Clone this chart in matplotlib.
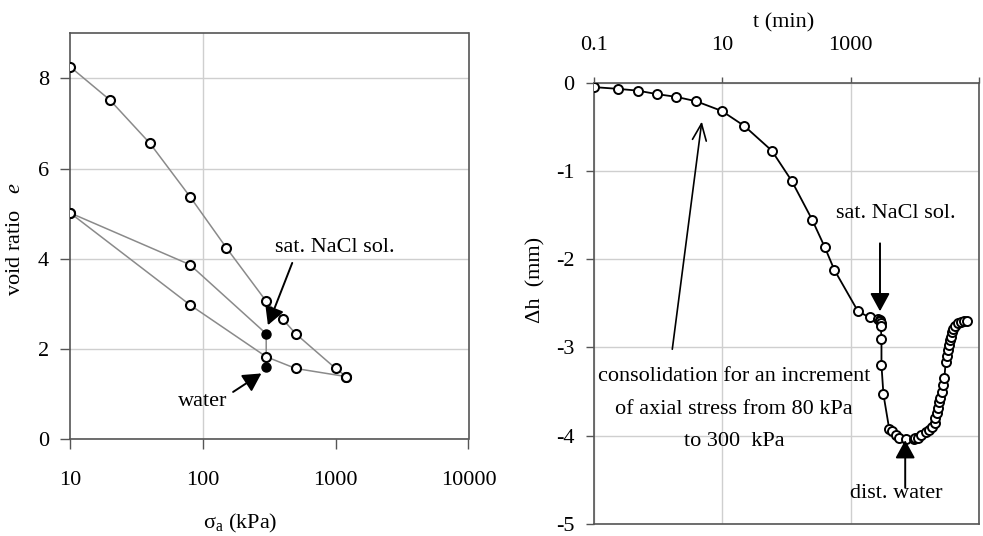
import matplotlib
matplotlib.use("Agg")
import matplotlib.pyplot as plt
from matplotlib.patches import ArrowStyle

plt.rcParams['font.family'] = ['Liberation Serif', 'DejaVu Serif']
plt.rcParams['mathtext.fontset'] = 'custom'
plt.rcParams['mathtext.rm'] = 'Liberation Serif'
plt.rcParams['mathtext.it'] = 'Liberation Serif:italic'
plt.rcParams['axes.unicode_minus'] = False
FS = 16
plt.rcParams['font.size'] = FS

# ---- Oedometer compression curve (void ratio vs axial stress) ----
stress_load = [10, 20, 40, 80, 150, 300, 400, 500, 1000, 1200]
e_load = [8.26, 7.52, 6.56, 5.38, 4.25, 3.06, 2.66, 2.34, 1.57, 1.39]
stress_unload = [1200, 500, 300, 80, 10]
e_unload = [1.39, 1.57, 1.83, 2.98, 5.02]
stress_reload = [10, 80]
e_reload = [5.02, 3.87]
stress_fluid = [300, 300]          # sat. NaCl sol., then water
e_fluid = [2.34, 1.61]

x_ticks_left = [10, 100, 1000, 10000]
y_ticks_left = [0, 2, 4, 6, 8]

# ---- Settlement vs time for the 80 -> 300 kPa step ----
t_min = [0.1, 0.24, 0.48, 0.97, 1.9, 3.9, 9.8, 22, 59, 120, 250, 393, 556,
         1300, 1970, 2690, 2820, 2880, 2950, 2950, 3020, 3020, 3240, 3980,
         4370, 5010, 5620, 7240, 9550, 10230, 11220, 12590, 14790, 16600,
         18620, 20420, 20890, 21880, 22650, 23990, 24550, 26300, 27540,
         28840, 30200, 31260, 32360, 33880, 35480, 36310, 38020, 39810,
         42660, 46770, 52480, 58880, 64570]
dh_mm = [-0.05, -0.07, -0.09, -0.13, -0.16, -0.21, -0.32, -0.49, -0.77,
         -1.11, -1.55, -1.86, -2.12, -2.59, -2.66, -2.68, -2.69, -2.70,
         -2.72, -2.76, -2.90, -3.20, -3.53, -3.92, -3.95, -3.99, -4.02,
         -4.04, -4.04, -4.03, -4.02, -3.99, -3.96, -3.93, -3.90, -3.85,
         -3.80, -3.74, -3.69, -3.62, -3.57, -3.50, -3.42, -3.35, -3.17,
         -3.10, -3.03, -2.97, -2.92, -2.88, -2.83, -2.79, -2.755, -2.72,
         -2.71, -2.695, -2.695]

x_ticks_right = [0.1, 10, 1000, 100000]
x_ticklabels_right = ['0.1', '10', '1000', '']
y_ticks_right = [0, -1, -2, -3, -4, -5]

W, H = 983, 536
fig = plt.figure(figsize=(W / 100, H / 100), dpi=100)
fig.patch.set_facecolor('white')

spine_c = '#555555'
grid_c = '#cfcfcf'

# ------------------------------ left panel ------------------------------
axL = fig.add_axes([70 / W, (H - 439.3) / H, 398.5 / W, (439.3 - 33.3) / H])
axL.set_xscale('log')
axL.set_xlim(10, 10000)
axL.set_ylim(0, 9)
axL.set_xticks(x_ticks_left)
axL.set_xticklabels([str(v) for v in x_ticks_left])
axL.xaxis.set_minor_locator(matplotlib.ticker.NullLocator())
axL.set_yticks(y_ticks_left)
axL.grid(axis='y', color=grid_c, lw=1.0, zorder=0)
axL.axvline(100, color=grid_c, lw=1.0, zorder=0)
for s in axL.spines.values():
    s.set_color(spine_c)
    s.set_linewidth(1.2)
axL.tick_params(axis='x', direction='out', length=7, width=1, color=spine_c, pad=16, labelsize=FS)
axL.tick_params(axis='y', direction='out', length=7, width=1, color=spine_c, pad=8, labelsize=FS)

line_kw = dict(color='#8a8a8a', lw=1.1, zorder=2)
mk_kw = dict(marker='o', ms=6.5, mfc='white', mec='black', mew=1.5, ls='none', zorder=3)
axL.plot(stress_load, e_load, **line_kw)
axL.plot(stress_unload, e_unload, **line_kw)
axL.plot(stress_reload + stress_fluid, e_reload + e_fluid, **line_kw)
axL.plot(stress_load, e_load, **mk_kw)
axL.plot(stress_unload, e_unload, **mk_kw)
axL.plot(stress_reload, e_reload, **mk_kw)
axL.plot(stress_fluid, e_fluid, marker='o', ms=6.5, mfc='black', mec='black',
         ls='none', zorder=4)

head = ArrowStyle('-|>', head_length=0.55, head_width=0.3)
axL.annotate('', xy=(309, 2.53), xytext=(471, 3.91),
             arrowprops=dict(arrowstyle=head, color='black', lw=1.4,
                             mutation_scale=20, shrinkA=0, shrinkB=0))
axL.text(980, 4.26, 'sat. NaCl sol.', ha='center', va='center', fontsize=FS)
axL.annotate('', xy=(276, 1.46), xytext=(169, 1.05),
             arrowprops=dict(arrowstyle=head, color='black', lw=1.4,
                             mutation_scale=20, shrinkA=0, shrinkB=0))
axL.text(100, 0.83, 'water', ha='center', va='center', fontsize=FS)

fig.text(16 / W, 1 - 239 / H, 'void ratio   $e$', rotation=90,
         ha='center', va='center', fontsize=FS)
fig.text(240 / W, 1 - 523 / H, 'σ$_\\mathrm{a}$ (kPa)', ha='center',
         va='center', fontsize=FS)

# ------------------------------ right panel -----------------------------
axR = fig.add_axes([594 / W, 12 / H, 385 / W, (524 - 82.7) / H])
axR.set_xscale('log')
axR.set_xlim(0.1, 100000)
axR.set_ylim(-5, 0)
axR.xaxis.tick_top()
axR.set_xticks(x_ticks_right)
axR.set_xticklabels(x_ticklabels_right)
axR.xaxis.set_minor_locator(matplotlib.ticker.NullLocator())
axR.set_yticks(y_ticks_right)
axR.set_yticklabels([str(v) for v in y_ticks_right])
axR.grid(True, color=grid_c, lw=1.0, zorder=0)
for s in axR.spines.values():
    s.set_color(spine_c)
    s.set_linewidth(1.2)
axR.tick_params(axis='x', direction='out', length=4, width=1, color=spine_c, pad=16, labelsize=FS)
axR.tick_params(axis='y', direction='out', length=6, width=1, color=spine_c, pad=8, labelsize=FS)

axR.plot(t_min, dh_mm, color='black', lw=1.3, marker='o', ms=6.5, mfc='white',
         mec='black', mew=1.4, zorder=3)

axR.annotate('', xy=(10 ** 3.457, -2.59), xytext=(10 ** 3.457, -1.82),
             arrowprops=dict(arrowstyle=head, color='black', lw=1.4,
                             mutation_scale=20, shrinkA=0, shrinkB=0))
axR.text(10 ** 3.70, -1.48, 'sat. NaCl sol.', ha='center', va='center', fontsize=FS)
axR.annotate('', xy=(10 ** 3.85, -4.05), xytext=(10 ** 3.85, -4.59),
             arrowprops=dict(arrowstyle=head, color='black', lw=1.4,
                             mutation_scale=20, shrinkA=0, shrinkB=0))
axR.text(10 ** 3.71, -4.66, 'dist. water', ha='center', va='center', fontsize=FS)

open_head = ArrowStyle('->', head_length=0.6, head_width=0.25)
axR.annotate('', xy=(10 ** 0.68, -0.44), xytext=(10 ** 0.22, -3.02),
             arrowprops=dict(arrowstyle=open_head, color='black', lw=1.2,
                             mutation_scale=20, shrinkA=0, shrinkB=0))
axR.text(10 ** 1.18, -3.70,
         'consolidation for an increment\nof axial stress from 80 kPa\nto 300  kPa',
         ha='center', va='center', multialignment='center', fontsize=FS,
         linespacing=1.95)

fig.text(784 / W, 1 - 22.5 / H, 't (min)', ha='center', va='center', fontsize=FS)
fig.text(536 / W, 1 - 280 / H, 'Δh  (mm)', rotation=90, ha='center',
         va='center', fontsize=FS)

fig.savefig('out.png', dpi=100, facecolor='white')
